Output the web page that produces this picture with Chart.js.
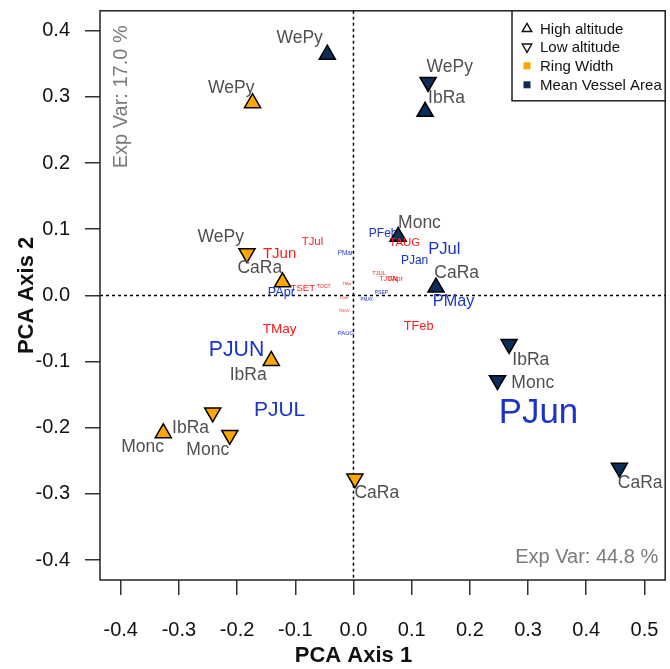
<!DOCTYPE html>
<html>
<head>
<meta charset="utf-8">
<script src="https://cdn.jsdelivr.net/npm/chart.js@4"></script>
<style>
  html, body { margin: 0; padding: 0; background: #fff; overflow: hidden; }
</style>
</head>
<body>
<canvas id="pca" width="676" height="669"></canvas>
<script>
// sites (same order in every group)
const siteNames = ["WePy", "CaRa", "IbRa", "Monc"];

// Ring Width, high altitude
const rwHighX = [-0.1735, -0.1219, -0.1413, -0.3268];
const rwHighY = [0.2907, 0.0200, -0.0988, -0.2080];
const rwHighLabX = [-0.210, -0.161, -0.181, -0.3625];
const rwHighLabY = [0.313, 0.041, -0.120, -0.230];
// Ring Width, low altitude
const rwLowX = [-0.1830, 0.0025, -0.2419, -0.2126];
const rwLowY = [0.0636, -0.2767, -0.1770, -0.2110];
const rwLowLabX = [-0.228, 0.040, -0.280, -0.2504];
const rwLowLabY = [0.0887, -0.299, -0.2005, -0.2335];
// Mean Vessel Area, high altitude
const mvaHighX = [-0.0450, 0.1418, 0.1231, 0.0767];
const mvaHighY = [0.3639, 0.0120, 0.2777, 0.0887];
const mvaHighLabX = [-0.0925, 0.1774, 0.160, 0.1134];
const mvaHighLabY = [0.388, 0.0331, 0.2977, 0.1098];
// Mean Vessel Area, low altitude
const mvaLowX = [0.1282, 0.4570, 0.2674, 0.2475];
const mvaLowY = [0.3223, -0.2606, -0.0737, -0.1283];
const mvaLowLabX = [0.1655, 0.4927, 0.3047, 0.3081];
const mvaLowLabY = [0.3444, -0.2838, -0.0977, -0.1328];

// climate variables (text scaled by cex)
const precipNames = ["PJun", "PJUN", "PJUL", "PJul", "PMay", "PJan", "PFeb", "PApr", "PMar", "PAUG", "PSEP", "PMAY"];
const precipX = [0.318, -0.201, -0.127, 0.156, 0.172, 0.105, 0.051, -0.124, -0.014, -0.013, 0.048, 0.023];
const precipY = [-0.179, -0.082, -0.173, 0.070, -0.009, 0.053, 0.093, 0.005, 0.064, -0.058, 0.004, -0.006];
const precipCex = [2.9, 1.77, 1.75, 1.38, 1.35, 1.0, 1.0, 1.06, 0.53, 0.5, 0.42, 0.38];

const tempNames = ["TJun", "TJul", "TAUG", "TSET", "TOCT", "TMay", "TFeb", "TJUL", "TJUN", "TApr", "TMar", "TJan", "TNOV"];
const tempX = [-0.127, -0.0705, 0.088, -0.087, -0.051, -0.127, 0.112, 0.044, 0.060, 0.072, -0.011, -0.017, -0.016];
const tempY = [0.063, 0.081, 0.079, 0.011, 0.013, -0.051, -0.047, 0.033, 0.024, 0.024, 0.017, -0.004, -0.023];
const tempCex = [1.25, 0.95, 0.95, 0.8, 0.43, 1.13, 1.06, 0.47, 0.6, 0.6, 0.33, 0.33, 0.33];

const xTicks = [-0.4, -0.3, -0.2, -0.1, 0.0, 0.1, 0.2, 0.3, 0.4, 0.5];
const yTicks = [-0.4, -0.3, -0.2, -0.1, 0.0, 0.1, 0.2, 0.3, 0.4];
const expVar1 = 44.8;
const expVar2 = 17.0;
const legendLabels = ["High altitude", "Low altitude", "Ring Width", "Mean Vessel Area"];

const FONT = '"Liberation Sans", Arial, sans-serif';
const ORANGE = "#FFA500";
const NAVY = "#0b2d57";
const GREY = "#505050";

function pts(xs, ys) {
  return xs.map((x, i) => ({ x: x, y: ys[i] }));
}

function markers(xs, ys, color, down) {
  return {
    data: pts(xs, ys),
    pointStyle: "triangle",
    rotation: down ? 180 : 0,
    pointRadius: 9.3,
    backgroundColor: color,
    borderColor: "#000",
    borderWidth: 1.5,
    showLine: false
  };
}

function words(xs, ys, names, color, cex, layer) {
  return {
    data: pts(xs, ys),
    pointRadius: 0,
    showLine: false,
    names: names,
    textColor: color,
    cex: cex,
    layer: layer
  };
}

function drawWords(chart, layer) {
  const ctx = chart.ctx;
  chart.data.datasets.forEach((ds, i) => {
    if (!ds.names || ds.layer !== layer) return;
    const meta = chart.getDatasetMeta(i);
    ctx.save();
    ctx.fillStyle = ds.textColor;
    ctx.textAlign = "center";
    ctx.textBaseline = "middle";
    meta.data.forEach((el, j) => {
      const size = ds.cex ? ds.cex[j] * 12 : 17.5;
      ctx.font = size + "px " + FONT;
      ctx.fillText(ds.names[j], el.x, el.y);
    });
    ctx.restore();
  });
}

const pcaDecor = {
  id: "pcaDecor",
  beforeDatasetsDraw(chart) {
    const ctx = chart.ctx;
    const a = chart.chartArea;
    const x0 = chart.scales.x.getPixelForValue(0);
    const y0 = chart.scales.y.getPixelForValue(0);
    ctx.save();
    ctx.strokeStyle = "#000";
    ctx.lineWidth = 1.5;
    ctx.setLineDash([3, 3]);
    ctx.beginPath();
    ctx.moveTo(x0, a.top);
    ctx.lineTo(x0, a.bottom);
    ctx.moveTo(a.left, y0);
    ctx.lineTo(a.right, y0);
    ctx.stroke();
    ctx.restore();
    drawWords(chart, "under");
  },
  afterDatasetsDraw(chart) {
    drawWords(chart, "over");
  },
  afterDraw(chart) {
    const ctx = chart.ctx;
    const a = chart.chartArea;
    ctx.save();
    // box
    ctx.strokeStyle = "#222";
    ctx.lineWidth = 1.5;
    ctx.strokeRect(a.left, a.top, a.right - a.left, a.bottom - a.top);

    // explained variance
    ctx.fillStyle = "#7a7a7a";
    ctx.font = "20px " + FONT;
    ctx.textAlign = "right";
    ctx.textBaseline = "middle";
    ctx.fillText("Exp Var: " + expVar1.toFixed(1) + " %", a.right - 7, a.bottom - 23);
    ctx.save();
    ctx.translate(a.left + 21, a.top + 86);
    ctx.rotate(-Math.PI / 2);
    ctx.textAlign = "center";
    ctx.fillText("Exp Var: " + expVar2.toFixed(1) + " %", 0, 0);
    ctx.restore();

    // axis titles
    ctx.fillStyle = "#111";
    ctx.font = "bold 22px " + FONT;
    ctx.textAlign = "center";
    ctx.fillText("PCA Axis 1", chart.scales.x.getPixelForValue(0), 656);
    ctx.save();
    ctx.translate(27, chart.scales.y.getPixelForValue(0));
    ctx.rotate(-Math.PI / 2);
    ctx.fillText("PCA Axis 2", 0, 0);
    ctx.restore();

    // legend
    const lx = 512, ly = a.top;
    ctx.strokeStyle = "#222";
    ctx.lineWidth = 1.5;
    ctx.fillStyle = "#fff";
    ctx.fillRect(lx, ly, a.right - lx, 90);
    ctx.strokeRect(lx, ly, a.right - lx, 90);
    const rows = [18, 36, 55, 74];
    const sx = lx + 15;
    ctx.font = "15px " + FONT;
    ctx.textAlign = "left";
    legendLabels.forEach((t, i) => {
      const cy = ly + rows[i];
      ctx.strokeStyle = "#111";
      ctx.lineWidth = 1.4;
      if (i < 2) {
        const r = 5.5;
        const d = i === 1 ? -1 : 1;
        ctx.beginPath();
        ctx.moveTo(sx, cy - d * r);
        ctx.lineTo(sx + r * 0.866, cy + d * r * 0.5);
        ctx.lineTo(sx - r * 0.866, cy + d * r * 0.5);
        ctx.closePath();
        ctx.stroke();
      } else {
        ctx.fillStyle = i === 2 ? ORANGE : NAVY;
        ctx.fillRect(sx - 3.5, cy - 3.5, 7, 7);
      }
      ctx.fillStyle = "#111";
      ctx.fillText(t, lx + 28, cy + 1);
    });
    ctx.restore();
  }
};

function axisOpts(min, max, ticks, pad) {
  return {
    type: "linear",
    min: min,
    max: max,
    afterBuildTicks: (s) => { s.ticks = ticks.map(v => ({ value: v })); },
    ticks: {
      autoSkip: false,
      maxRotation: 0,
      padding: pad,
      color: "#111",
      font: { family: FONT, size: 20 },
      callback: (v) => Number(v).toFixed(1)
    },
    grid: {
      drawOnChartArea: false,
      drawTicks: true,
      tickLength: 15,
      color: "#333",
      lineWidth: 1.5
    },
    border: { display: false }
  };
}

const xAxis = axisOpts(-0.4356, 0.5357, xTicks, 23);
xAxis.afterFit = (s) => {
  s.height = 89;
  s.paddingLeft = 0;
  s.paddingRight = 0;
};
const yAxis = axisOpts(-0.43, 0.43, yTicks, 15);
yAxis.afterFit = (s) => {
  s.width = 100;
  s.paddingTop = 0;
  s.paddingBottom = 0;
};

new Chart(document.getElementById("pca"), {
  type: "scatter",
  data: {
    datasets: [
      words(precipX, precipY, precipNames, "#1a33cc", precipCex, "under"),
      markers(rwHighX, rwHighY, ORANGE, false),
      markers(rwLowX, rwLowY, ORANGE, true),
      markers(mvaHighX, mvaHighY, NAVY, false),
      markers(mvaLowX, mvaLowY, NAVY, true),
      words(tempX, tempY, tempNames, "#ff1a1a", tempCex, "over"),
      words(rwHighLabX, rwHighLabY, siteNames, GREY, null, "over"),
      words(rwLowLabX, rwLowLabY, siteNames, GREY, null, "over"),
      words(mvaHighLabX, mvaHighLabY, siteNames, GREY, null, "over"),
      words(mvaLowLabX, mvaLowLabY, siteNames, GREY, null, "over")
    ]
  },
  options: {
    responsive: false,
    animation: false,
    layout: { padding: { top: 8, right: 4, left: 0, bottom: 0 } },
    plugins: { legend: { display: false }, tooltip: { enabled: false } },
    scales: { x: xAxis, y: yAxis }
  },
  plugins: [pcaDecor]
});
</script>
</body>
</html>
